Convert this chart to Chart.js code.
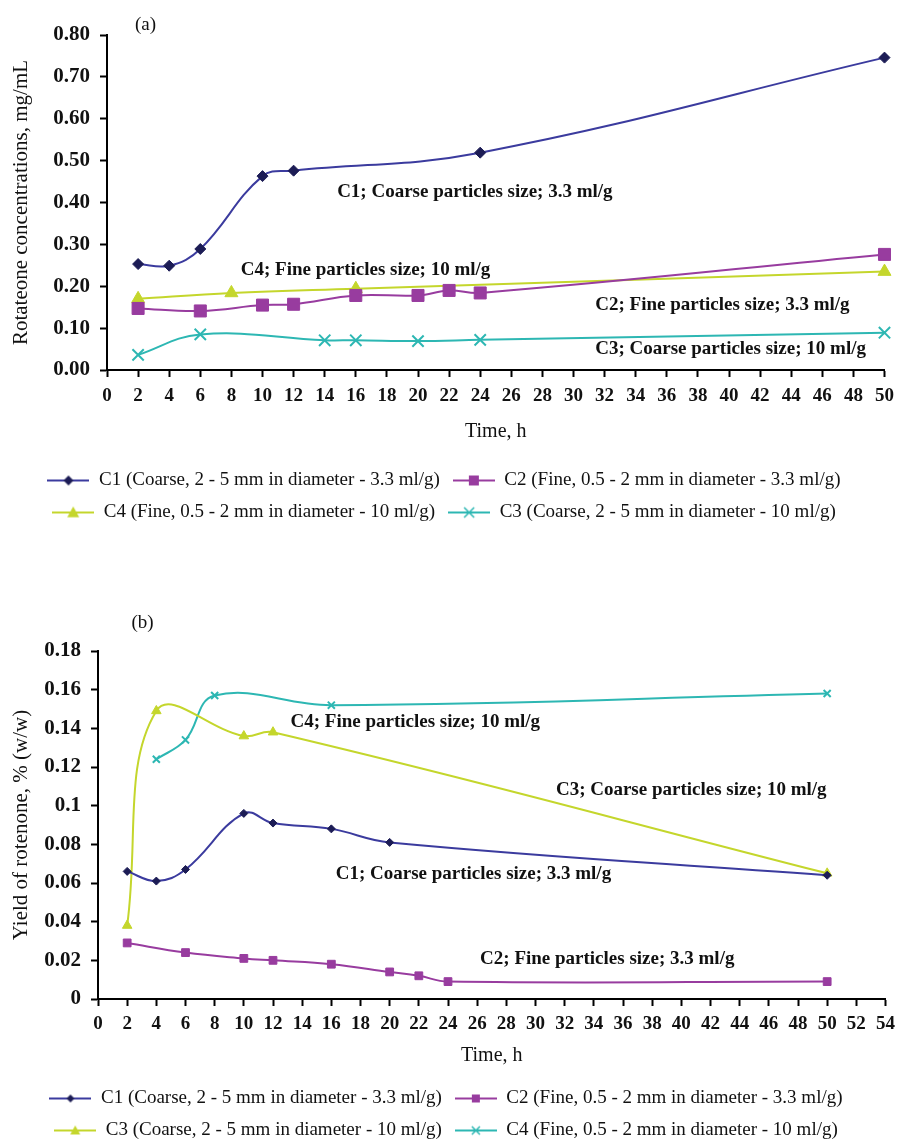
<!DOCTYPE html>
<html>
<head>
<meta charset="utf-8">
<script src="https://cdn.jsdelivr.net/npm/chart.js@4.4.1/dist/chart.umd.min.js"></script>
<style>
  html, body { margin: 0; padding: 0; background: #fff; overflow: hidden; }
  canvas { position: absolute; left: 0; }
  #chartA { top: 0; }
  #chartB { top: 560px; }
</style>
</head>
<body>
<canvas id="chartA" width="902" height="540"></canvas>
<canvas id="chartB" width="902" height="590"></canvas>
<script>
// ---- panel (a): rotenone concentration, mg/mL ----
const timeA_C1 = [2, 4, 6, 10, 12, 24, 50];
const concA_C1 = [0.253, 0.249, 0.289, 0.463, 0.476, 0.519, 0.746];
const timeA_C2 = [2, 6, 10, 12, 16, 20, 22, 24, 50];
const concA_C2 = [0.147, 0.141, 0.155, 0.157, 0.178, 0.178, 0.19, 0.184, 0.276];
const timeA_C4 = [2, 8, 16, 50];
const concA_C4 = [0.17, 0.184, 0.194, 0.235];
const timeA_C3 = [2, 6, 14, 16, 20, 24, 50];
const concA_C3 = [0.036, 0.085, 0.071, 0.071, 0.069, 0.072, 0.089];

// ---- panel (b): yield of rotenone, % (w/w) ----
const timeB_C1 = [2, 4, 6, 10, 12, 16, 20, 50];
const yieldB_C1 = [0.066, 0.061, 0.067, 0.096, 0.091, 0.088, 0.081, 0.064];
const timeB_C2 = [2, 6, 10, 12, 16, 20, 22, 24, 50];
const yieldB_C2 = [0.029, 0.024, 0.021, 0.020, 0.018, 0.014, 0.012, 0.009, 0.009];
const timeB_C3 = [2, 4, 10, 12, 50];
const yieldB_C3 = [0.038, 0.149, 0.136, 0.138, 0.065];
const timeB_C4 = [4, 6, 8, 16, 50];
const yieldB_C4 = [0.124, 0.134, 0.157, 0.152, 0.158];

const labelsA = [
  "C1 (Coarse, 2 - 5 mm in diameter - 3.3 ml/g)",
  "C2 (Fine, 0.5 - 2 mm in diameter - 3.3 ml/g)",
  "C4 (Fine, 0.5 - 2 mm in diameter - 10 ml/g)",
  "C3 (Coarse, 2 - 5 mm in diameter - 10 ml/g)",
];
const labelsB = [
  "C1 (Coarse, 2 - 5 mm in diameter - 3.3 ml/g)",
  "C2 (Fine, 0.5 - 2 mm in diameter - 3.3 ml/g)",
  "C3 (Coarse, 2 - 5 mm in diameter - 10 ml/g)",
  "C4 (Fine, 0.5 - 2 mm in diameter - 10 ml/g)",
];

const notesA = [
  "C1; Coarse particles size; 3.3 ml/g",
  "C4; Fine particles size; 10 ml/g",
  "C2; Fine particles size; 3.3 ml/g",
  "C3; Coarse particles size; 10 ml/g",
];
const notesB = [
  "C4; Fine particles size; 10 ml/g",
  "C3; Coarse particles size; 10 ml/g",
  "C1; Coarse particles size; 3.3 ml/g",
  "C2; Fine particles size; 3.3 ml/g",
];
// where the annotation text starts, in data units
const notePosA = { x: [14.8, 8.6, 31.4, 31.4], y: [0.425, 0.239, 0.155, 0.05] };
const notePosB = { x: [13.2, 31.4, 16.3, 26.2], y: [0.143, 0.108, 0.0647, 0.0205] };

const serif = '"Liberation Serif", "Times New Roman", serif';
const ink = "#111";
const navyLine = "#3b3b9e", navyMark = "#1c1c55";
const purple = "#983c9f";
const yellow = "#c4d62c";
const teal = "#2db7b3";

// small line+marker picture for the legend entries
function makeIcon(line, mark, style, r) {
  const c = document.createElement("canvas");
  c.width = 42;
  c.height = 16;
  const g = c.getContext("2d");
  g.strokeStyle = line;
  g.lineWidth = 2;
  g.beginPath();
  g.moveTo(0, 8);
  g.lineTo(42, 8);
  g.stroke();
  g.fillStyle = mark;
  g.strokeStyle = mark;
  const x = 21, y = 8;
  g.beginPath();
  if (style === "rectRot") {
    g.moveTo(x, y - r); g.lineTo(x + r, y); g.lineTo(x, y + r); g.lineTo(x - r, y);
    g.closePath(); g.fill();
  } else if (style === "rect") {
    g.fillRect(x - r, y - r, 2 * r, 2 * r);
  } else if (style === "triangle") {
    g.moveTo(x, y - r); g.lineTo(x + r, y + r * 0.8); g.lineTo(x - r, y + r * 0.8);
    g.closePath(); g.fill();
  } else {
    g.lineWidth = 1.5;
    g.moveTo(x - r, y - r); g.lineTo(x + r, y + r);
    g.moveTo(x + r, y - r); g.lineTo(x - r, y + r);
    g.stroke();
  }
  return c;
}

function series(label, xs, ys, line, mark, style, radius, iconR) {
  return {
    label: label,
    data: xs.map((x, i) => ({ x: x, y: ys[i] })),
    borderColor: line,
    backgroundColor: mark,
    pointBackgroundColor: mark,
    pointBorderColor: mark,
    pointStyle: style,
    pointRadius: radius,
    pointHoverRadius: radius,
    pointBorderWidth: style === "crossRot" ? 2 : 1,
    borderWidth: 2,
    tension: 0.4,
    fill: false,
    clip: false,
    icon: makeIcon(line, mark, style, iconR),
  };
}

const notesPlugin = {
  id: "notes",
  afterDatasetsDraw(chart, args, opts) {
    const { ctx, scales } = chart;
    ctx.save();
    ctx.fillStyle = ink;
    ctx.textBaseline = "middle";
    ctx.textAlign = "left";
    ctx.font = "bold 19px " + serif;
    opts.text.forEach((t, i) => {
      ctx.fillText(t, scales.x.getPixelForValue(opts.x[i]), scales.y.getPixelForValue(opts.y[i]));
    });
    ctx.font = "19px " + serif;
    ctx.fillText(opts.panel, scales.x.getPixelForValue(opts.panelAt[0]), scales.y.getPixelForValue(opts.panelAt[1]));
    ctx.restore();
  },
};

function makeOptions(o) {
  return {
    responsive: false,
    animation: false,
    events: [],
    layout: { padding: { top: o.padTop, right: o.padRight, bottom: o.padBottom, left: 0 } },
    scales: {
      x: {
        type: "linear",
        min: 0,
        max: o.xmax,
        afterFit: (s) => { s.height = o.xHeight; },
        border: { display: true, color: "#000", width: 2 },
        grid: { display: true, drawOnChartArea: false, drawTicks: true, tickLength: 7, tickColor: "#000", tickWidth: 2 },
        ticks: {
          stepSize: 2, autoSkip: false, maxRotation: 0, padding: o.tickPadX, color: ink,
          font: { family: serif, size: 19, weight: "bold" },
        },
        title: {
          display: true, text: "Time, h", color: ink,
          font: { family: serif, size: 20 }, padding: { top: 0, bottom: o.titlePadX },
        },
      },
      y: {
        min: 0,
        max: o.ymax,
        afterFit: (s) => { s.width = o.yWidth; },
        border: { display: true, color: "#000", width: 2 },
        grid: { display: true, drawOnChartArea: false, drawTicks: true, tickLength: 7, tickColor: "#000", tickWidth: 2 },
        ticks: {
          stepSize: o.ystep, padding: 10, color: ink,
          font: { family: serif, size: 21, weight: "bold" },
          callback: o.yfmt,
        },
        title: {
          display: true, text: o.ytitle, color: ink,
          font: { family: serif, size: 21 }, padding: { top: 9, bottom: 0 },
        },
      },
    },
    plugins: {
      tooltip: { enabled: false },
      legend: {
        position: "bottom",
        labels: {
          usePointStyle: true,
          pointStyleWidth: 42,
          padding: 13,
          color: ink,
          font: { family: serif, size: 19 },
          generateLabels: (chart) => chart.data.datasets.map((ds, i) => ({
            text: ds.label,
            pointStyle: ds.icon,
            datasetIndex: i,
            hidden: false,
            lineWidth: 0,
            fillStyle: "transparent",
            strokeStyle: "transparent",
            fontColor: ink,
          })),
        },
      },
      notes: o.notes,
    },
  };
}

new Chart(document.getElementById("chartA").getContext("2d"), {
  type: "line",
  data: {
    datasets: [
      series(labelsA[0], timeA_C1, concA_C1, navyLine, navyMark, "rectRot", 5.5, 5),
      series(labelsA[1], timeA_C2, concA_C2, purple, purple, "rect", 8.5, 5),
      series(labelsA[2], timeA_C4, concA_C4, yellow, yellow, "triangle", 7.5, 6),
      series(labelsA[3], timeA_C3, concA_C3, teal, teal, "crossRot", 8, 5),
    ],
  },
  options: makeOptions({
    xmax: 50, ymax: 0.8, ystep: 0.1,
    yfmt: (v) => v.toFixed(2),
    ytitle: "Rotateone concentrations, mg/mL",
    padTop: 35, padRight: 14, padBottom: 8,
    yWidth: 107, xHeight: 88, tickPadX: 8, titlePadX: 14,
    notes: { text: notesA, x: notePosA.x, y: notePosA.y, panel: "(a)", panelAt: [1.8, 0.824] },
  }),
  plugins: [notesPlugin],
});

new Chart(document.getElementById("chartB").getContext("2d"), {
  type: "line",
  data: {
    datasets: [
      series(labelsB[0], timeB_C1, yieldB_C1, navyLine, navyMark, "rectRot", 4, 4),
      series(labelsB[1], timeB_C2, yieldB_C2, purple, purple, "rect", 5.5, 4),
      series(labelsB[2], timeB_C3, yieldB_C3, yellow, yellow, "triangle", 5.5, 5),
      series(labelsB[3], timeB_C4, yieldB_C4, teal, teal, "crossRot", 5, 4),
    ],
  },
  options: makeOptions({
    xmax: 54, ymax: 0.18, ystep: 0.02,
    yfmt: (v) => String(+v.toFixed(2)),
    ytitle: "Yield of rotenone, % (w/w)",
    padTop: 91, padRight: 10, padBottom: 0,
    yWidth: 98, xHeight: 77, tickPadX: 7, titlePadX: 8,
    notes: { text: notesB, x: notePosB.x, y: notePosB.y, panel: "(b)", panelAt: [2.3, 0.1945] },
  }),
  plugins: [notesPlugin],
});
</script>
</body>
</html>
